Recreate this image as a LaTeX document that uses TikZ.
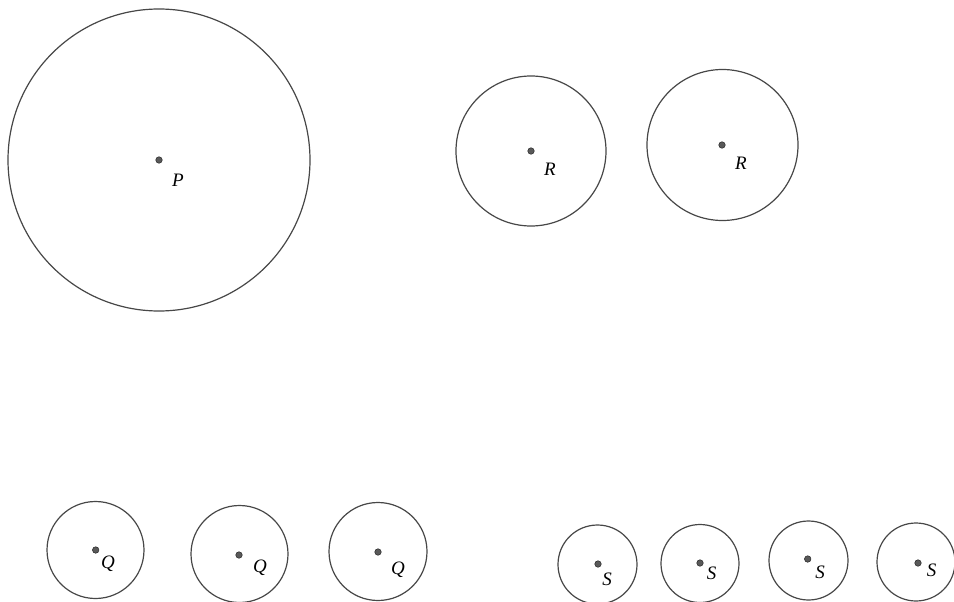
\documentclass[tikz,border=0pt]{standalone}
\usepackage{fontspec}
\setmainfont{Liberation Serif}
\begin{document}
\begin{tikzpicture}[x=1pt,y=-1pt,
  ring/.style={circle,draw=black!72,line width=1.2pt,inner sep=0pt,minimum size=#1},
  pt/.style={circle,fill=black!65,draw=black!85,line width=0.5pt,inner sep=0pt,minimum size=6.5pt},
  lbl/.style={inner sep=0pt,font=\fontsize{19}{19}\selectfont\itshape}]
\useasboundingbox (0,0) rectangle (954,602);
% P
\node[ring=302pt] (cP) at (159,160) {};
\node[pt] (dP) at (159,160) {};
\node[lbl] (lP) at (178,180) {P};
% R
\node[ring=150pt] (cR1) at (531,151) {};
\node[pt] (dR1) at (531,151) {};
\node[lbl] (lR1) at (550,169) {R};
\node[ring=151pt] (cR2) at (722.5,145) {};
\node[pt] (dR2) at (722,145) {};
\node[lbl] (lR2) at (741,163) {R};
% Q
\node[ring=97pt] (cQ1) at (95.5,550) {};
\node[pt] (dQ1) at (95.7,550) {};
\node[lbl] (lQ1) at (108,564) {Q};
\node[ring=97pt] (cQ2) at (239.5,554) {};
\node[pt] (dQ2) at (239,555) {};
\node[lbl] (lQ2) at (260,568) {Q};
\node[ring=98pt] (cQ3) at (378,551.5) {};
\node[pt] (dQ3) at (378,552) {};
\node[lbl] (lQ3) at (398,570) {Q};
% S
\node[ring=79pt] (cS1) at (597.5,564.5) {};
\node[pt] (dS1) at (598,564) {};
\node[lbl] (lS1) at (607,579) {S};
\node[ring=78pt] (cS2) at (700,563.5) {};
\node[pt] (dS2) at (700,563) {};
\node[lbl] (lS2) at (711.5,573) {S};
\node[ring=79pt] (cS3) at (808.5,560.5) {};
\node[pt] (dS3) at (807.7,559) {};
\node[lbl] (lS3) at (820,572) {S};
\node[ring=78pt] (cS4) at (916,562) {};
\node[pt] (dS4) at (918,563) {};
\node[lbl] (lS4) at (931.5,570) {S};
\end{tikzpicture}
\end{document}
